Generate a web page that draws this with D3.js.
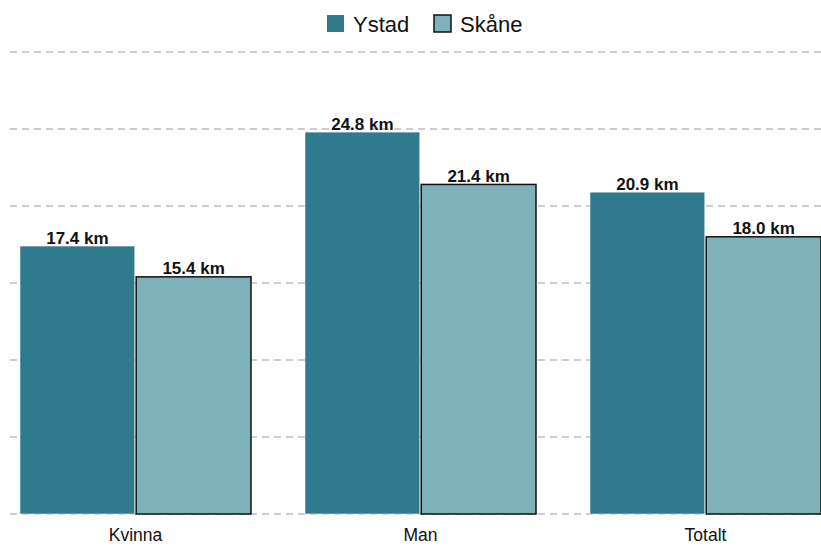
<!DOCTYPE html>
<html>
<head>
<meta charset="utf-8">
<script src="https://cdn.jsdelivr.net/npm/d3@7"></script>
<style>
  html, body { margin: 0; padding: 0; background: #fff; }
  svg { display: block; font-family: "Liberation Sans", Arial, sans-serif; }
</style>
</head>
<body>
<svg id="chart" width="821" height="546"></svg>
<script>
const categories = ["Kvinna", "Man", "Totalt"];
const seriesNames = ["Ystad", "Skåne"];
const ystadValues = [17.4, 24.8, 20.9];
const skaneValues = [15.4, 21.4, 18.0];
const yTicks = [0, 5, 10, 15, 20, 25, 30];
const colors = ["#2f7a8d", "#7fb1ba"];

const svg = d3.select("#chart");
const W = 821, H = 546;

const y = d3.scaleLinear().domain([0, 30]).range([514, 52]);
const x0 = d3.scaleBand().domain(categories).range([-7, 848])
  .paddingInner(0.1895).paddingOuter(0.0947);
const x1 = d3.scaleBand().domain(seriesNames).range([0, x0.bandwidth()]).paddingInner(0.012);

// gridlines
svg.append("g").selectAll("line").data(yTicks).join("line")
  .attr("x1", 10).attr("x2", W)
  .attr("y1", d => y(d)).attr("y2", d => y(d))
  .attr("stroke", "#bdbdbd").attr("stroke-width", 1.4)
  .attr("stroke-dasharray", "7,5");

const data = categories.map((c, i) => ({
  cat: c,
  vals: [{s: "Ystad", v: ystadValues[i]}, {s: "Skåne", v: skaneValues[i]}]
}));

const groups = svg.append("g").selectAll("g").data(data).join("g")
  .attr("transform", d => `translate(${x0(d.cat)},0)`);

groups.selectAll("rect").data(d => d.vals).join("rect")
  .attr("x", d => x1(d.s))
  .attr("width", x1.bandwidth())
  .attr("y", d => y(d.v))
  .attr("height", d => y(0) - y(d.v))
  .attr("fill", (d, i) => colors[i])
  .attr("stroke", (d, i) => i === 0 ? "#ffffff" : "#111")
  .attr("stroke-width", (d, i) => i === 0 ? 0.5 : 1.5);

groups.selectAll("text").data(d => d.vals).join("text")
  .attr("x", d => x1(d.s) + x1.bandwidth() / 2)
  .attr("y", d => y(d.v) - 2.5)
  .attr("text-anchor", "middle")
  .attr("font-size", 17).attr("font-weight", "bold").attr("fill", "#111")
  .text(d => d.v.toFixed(1) + " km");

// x axis labels
svg.append("g").selectAll("text").data(categories).join("text")
  .attr("x", d => x0(d) + x0.bandwidth() / 2)
  .attr("y", 541)
  .attr("text-anchor", "middle")
  .attr("font-size", 17.5).attr("fill", "#111")
  .text(d => d);

// legend
const legendItems = [
  {name: "Ystad", x: 327, tx: 353},
  {name: "Skåne", x: 434, tx: 460}
];
const lg = svg.append("g");
legendItems.forEach((it, i) => {
  lg.append("rect").attr("x", it.x).attr("y", 15).attr("width", 17).attr("height", 17)
    .attr("fill", colors[i])
    .attr("stroke", i === 0 ? "none" : "#111").attr("stroke-width", 1.5);
  lg.append("text").attr("x", it.tx).attr("y", 32)
    .attr("font-size", 22).attr("fill", "#111").text(it.name);
});
</script>
</body>
</html>
